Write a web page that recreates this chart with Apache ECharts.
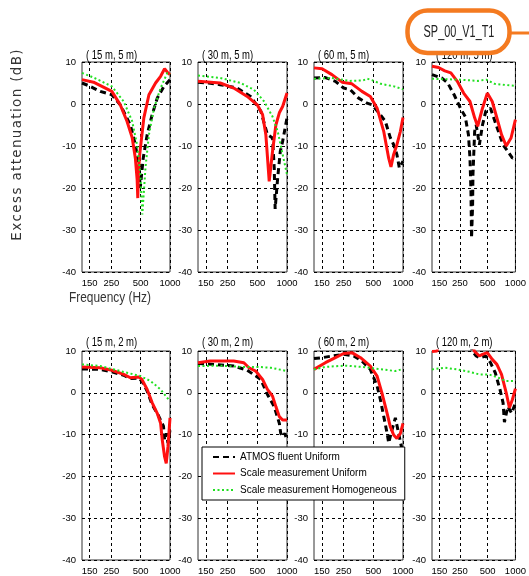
<!DOCTYPE html>
<html>
<head>
<meta charset="utf-8">
<script src="https://cdn.jsdelivr.net/npm/echarts@6/dist/echarts.min.js"></script>
<style>
html,body{margin:0;padding:0;background:#fff;}
#chart{width:529px;height:576px;}
</style>
</head>
<body>
<div id="chart"></div>
<script>
// ---------- data (frequency Hz, excess attenuation dB) ----------
const freqTicks = [150, 250, 500, 1000];
const seriesNames = ['ATMOS fluent Uniform', 'Scale measurement Uniform', 'Scale measurement Homogeneous'];
const panelTitles = ['( 15 m, 5 m)', '( 30 m, 5 m)', '( 60 m, 5 m)', '( 120 m, 5 m)',
                     '( 15 m, 2 m)', '( 30 m, 2 m)', '( 60 m, 2 m)', '( 120 m, 2 m)'];

// (15 m, 5 m)
const atmos_15_5 = [[125,5],[145,4.4],[164,3.8],[192,3],[253,2.2],[309,-0.2],[392,-5],[441,-9.7],[478,-14.4],[495,-20],[531,-12.9],[583,-7.3],[657,-2.5],[740,1.4],[868,4.2],[1000,5.8]];
const scaleU_15_5 = [[125,5.8],[164,5.2],[200,4.2],[253,3.0],[309,-0.2],[362,-4.1],[409,-8],[441,-12.9],[460,-18],[467,-22.4],[475,-16],[489,-12],[539,-3.3],[608,2.2],[711,5],[801,6.6],[880,8.4],[953,7.4],[1000,7]];
const scaleH_15_5 = [[125,7.4],[164,6.3],[253,4.2],[335,0.6],[409,-4.1],[459,-9.7],[497,-16.8],[520,-26.3],[561,-15],[608,-7.3],[685,-1],[801,3.8],[938,7.4],[1000,7]];

// (30 m, 5 m)
const atmos_30_5 = [[125,5.2],[160,5],[210,4.6],[312,3.8],[427,1.8],[542,-1.7],[633,-7.3],[713,-8.1],[742,-15.2],[758,-25],[804,-17.6],[855,-11.3],[903,-8.9],[1000,-3.3]];
const scaleU_30_5 = [[125,5.4],[210,5],[288,3.8],[395,1.8],[499,-0.2],[565,-2.5],[610,-7.3],[660,-18.4],[713,-11.3],[771,-5],[836,-2.1],[903,-0.6],[1000,2.6]];
const scaleH_30_5 = [[125,6.8],[210,6.2],[338,5],[462,3.4],[587,0.6],[713,-3],[804,-6.5],[903,-12],[1000,-16.8]];

// (60 m, 5 m)
const atmos_60_5 = [[125,6.2],[163,6.3],[206,5.4],[250,3.8],[292,3.4],[355,1.4],[431,0.2],[485,-0.2],[568,-2.1],[661,-4.1],[743,-8],[804,-9.7],[867,-12],[918,-15.2],[1000,-13.6]];
const scaleU_60_5 = [[125,8.6],[151,8.4],[190,7],[241,5.2],[303,4.8],[383,3],[466,1.8],[546,-1],[637,-6.5],[716,-12.9],[755,-15],[804,-12],[867,-9.7],[941,-6.5],[1000,-3.2]];
const scaleH_60_5 = [[125,6],[190,6.2],[287,5.5],[392,5.6],[435,6],[483,5.7],[595,4.8],[812,4.2],[1000,3.5]];

// (120 m, 5 m)
const atmos_120_5 = [[125,7],[159,6.2],[185,5],[217,2.2],[254,-1],[286,-3],[310,-7.3],[322,-12.9],[330,-20.8],[335,-31.9],[344,-24],[347,-16.8],[362,-6.5],[376,-5],[407,-9.7],[440,-5],[478,-1.7],[537,-1],[582,-3.3],[654,-6.5],[735,-9.7],[828,-11.3],[928,-12.9],[1000,-12.5]];
const scaleU_120_5 = [[125,9],[147,8.7],[172,7.9],[200,7.4],[235,5.4],[275,2.6],[322,0.6],[362,-3.3],[390,-5.3],[440,-1],[496,2.6],[561,0.6],[630,-3.3],[707,-7.3],[795,-10],[896,-8.1],[1000,-3.7]];
const scaleH_120_5 = [[125,6],[250,5.8],[392,5.5],[483,5.8],[595,4.8],[812,4.5],[1000,4.3]];

// (15 m, 2 m)
const atmos_15_2 = [[125,5.7],[192,5.6],[253,5],[335,4.2],[392,3.4],[478,3.5],[515,2.8],[583,0.4],[657,-2.9],[755,-5.3],[857,-8],[880,-11.3],[920,-9.7],[953,-12],[1000,-8.9]];
const scaleU_15_2 = [[125,6.2],[192,6],[253,5.4],[335,4.4],[392,3.6],[478,3.8],[515,3.2],[583,0.8],[657,-2.4],[740,-4.9],[801,-7.3],[833,-11.3],[880,-15.3],[915,-16.9],[953,-12.9],[1000,-6]];
const scaleH_15_2 = [[125,6.8],[192,6.4],[309,5.2],[497,4],[633,2.8],[801,0.8],[938,-1.2],[1000,-2]];

// (30 m, 2 m)
const atmos_30_2 = [[125,7],[180,6.8],[288,6.4],[395,5.4],[542,3.2],[633,-0.4],[742,-3.3],[836,-7.3],[864,-9.7],[903,-10.5],[953,-9.7],[1000,-11.5]];
const scaleU_30_2 = [[125,7.2],[166,7.6],[210,7.6],[288,7.6],[365,7.2],[411,6],[481,5.2],[565,3.2],[633,0.8],[713,-0.8],[771,-3.3],[836,-5.7],[903,-6.5],[1000,-6.5]];
const scaleH_30_2 = [[125,6.4],[210,6.5],[338,6.2],[499,6.2],[686,6],[1000,5.2]];

// (60 m, 2 m)
const atmos_60_2 = [[125,8.2],[151,8.4],[190,8.8],[250,9.2],[316,8.8],[383,7.6],[466,5.6],[546,1.6],[589,-1.6],[637,-5.6],[690,-9.7],[716,-12],[772,-8.9],[837,-6],[918,-10.5],[977,-13.6],[1000,-12.9]];
const scaleU_60_2 = [[125,5.6],[163,7.2],[206,8.4],[250,9.4],[303,9.6],[371,8.4],[466,6.4],[546,4],[611,0],[690,-4.9],[743,-8.1],[804,-10.1],[867,-10.9],[941,-9.7],[1000,-7.3]];
const scaleH_60_2 = [[125,5.6],[163,6.2],[260,6.5],[383,6.2],[568,5.7],[837,5.2],[1000,5.7]];

// (120 m, 2 m)
const atmos_120_2 = [[125,16],[250,16],[310,14],[340,10],[376,8.8],[407,8.4],[478,8.8],[537,7.2],[605,4.8],[680,0.8],[735,-2.4],[760,-7],[828,-3.3],[910,-4.9],[953,-4.5],[1000,-2.4]];
const scaleU_120_2 = [[125,9.9],[142,10],[152,14],[250,16],[330,14],[358,10],[407,8.8],[440,9.2],[496,9.6],[561,8],[630,6.8],[707,4.4],[795,0],[861,-3.6],[928,-1.6],[1000,1]];
const scaleH_120_2 = [[125,5.6],[172,6],[235,5.6],[322,5],[407,4.4],[516,4.4],[654,3.6],[795,2.8],[1000,2.8]];

const panelData = [
  [atmos_15_5, scaleU_15_5, scaleH_15_5],
  [atmos_30_5, scaleU_30_5, scaleH_30_5],
  [atmos_60_5, scaleU_60_5, scaleH_60_5],
  [atmos_120_5, scaleU_120_5, scaleH_120_5],
  [atmos_15_2, scaleU_15_2, scaleH_15_2],
  [atmos_30_2, scaleU_30_2, scaleH_30_2],
  [atmos_60_2, scaleU_60_2, scaleH_60_2],
  [atmos_120_2, scaleU_120_2, scaleH_120_2]
];

// ---------- layout / style ----------
const SANS = "'Liberation Sans',Arial,sans-serif";
const gridLefts = [82, 198, 314, 432];
const gridWidths = [88, 89, 89, 88];
const rowTops = [62, 351];
const rowHeights = [210, 209];
const lineStyles = [
  {color: '#000000', width: 3, type: [6, 4]},
  {color: '#ff1010', width: 3, type: 'solid'},
  {color: '#22e022', width: 2, type: [2, 2.5]}
];

const grids = [], xAxes = [], yAxes = [], series = [], graphics = [];
for (let i = 0; i < 8; i++) {
  const col = i % 4, row = Math.floor(i / 4);
  grids.push({left: gridLefts[col], top: rowTops[row], width: gridWidths[col], height: rowHeights[row],
              show: true, borderColor: '#333', borderWidth: 1, containLabel: false});
  xAxes.push({
    type: 'log', logBase: 10, min: 125, max: 1000, gridIndex: i,
    axisLine: {show: false},
    axisTick: {show: false, customValues: freqTicks},
    axisLabel: {customValues: freqTicks, fontSize: 9.5, color: '#000', fontFamily: SANS, margin: 6,
                formatter: v => String(Math.round(v))},
    splitLine: {show: true, lineStyle: {color: '#000', width: 1, type: [3, 3]}}
  });
  yAxes.push({
    type: 'value', min: -40, max: 10, interval: 10, gridIndex: i,
    axisLine: {show: false}, axisTick: {show: false},
    axisLabel: {fontSize: 9.5, color: '#000', fontFamily: SANS, margin: 6},
    splitLine: {show: true, lineStyle: {color: '#000', width: 1, type: [3, 3]}}
  });
  for (let k = 0; k < 3; k++) {
    series.push({
      type: 'line', name: seriesNames[k], xAxisIndex: i, yAxisIndex: i,
      data: panelData[i][k], symbol: 'none', smooth: false, clip: true,
      lineStyle: lineStyles[k], itemStyle: {color: lineStyles[k].color},
      z: 2 + k, animation: false
    });
  }
  graphics.push({
    type: 'text', x: gridLefts[col] + 4, y: row === 0 ? 55.5 : 343, scaleX: 0.76,
    style: {text: panelTitles[i], font: '12.5px ' + SANS, fill: '#000', align: 'left', verticalAlign: 'middle'},
    z: 5
  });
}

graphics.push({
  type: 'text', x: 17, y: 145, rotation: Math.PI / 2,
  style: {text: 'Excess attenuation (dB)'.split('').join('\u200A'), font: '13.5px "DejaVu Sans"', fill: '#333', align: 'center', verticalAlign: 'middle'}
});
graphics.push({
  type: 'text', x: 110, y: 298, scaleX: 0.85,
  style: {text: 'Frequency (Hz)', font: '14px ' + SANS, fill: '#333', align: 'center', verticalAlign: 'middle'}
});
// orange tag
graphics.push({
  type: 'line', z: 100,
  shape: {x1: 510, y1: 33, x2: 529, y2: 33},
  style: {stroke: '#f47a20', lineWidth: 3}
});
graphics.push({
  type: 'rect', z: 101,
  shape: {x: 407.5, y: 10.5, width: 102, height: 42.5, r: 20},
  style: {fill: '#fff', stroke: '#f47a20', lineWidth: 4.5}
});
graphics.push({
  type: 'text', z: 102, x: 459, y: 33, scaleX: 0.68,
  style: {text: 'SP_00_V1_T1', font: '16px ' + SANS, fill: '#222', align: 'center', verticalAlign: 'middle'}
});

const chart = echarts.init(document.getElementById('chart'), null, {renderer: 'canvas'});
chart.setOption({
  backgroundColor: '#fff',
  animation: false,
  grid: grids,
  xAxis: xAxes,
  yAxis: yAxes,
  series: series,
  legend: {
    data: seriesNames, orient: 'vertical', left: 202, top: 447,
    padding: [5, 8, 5, 10], itemGap: 6.5, itemWidth: 22, itemHeight: 10,
    backgroundColor: '#fff', borderColor: '#000', borderWidth: 1, borderRadius: 0,
    selectedMode: false, z: 20,
    itemStyle: {opacity: 0, color: 'rgba(0,0,0,0)', borderWidth: 0},
    textStyle: {fontSize: 10, color: '#000', fontFamily: SANS}
  },
  graphic: graphics
});
</script>
</body>
</html>
